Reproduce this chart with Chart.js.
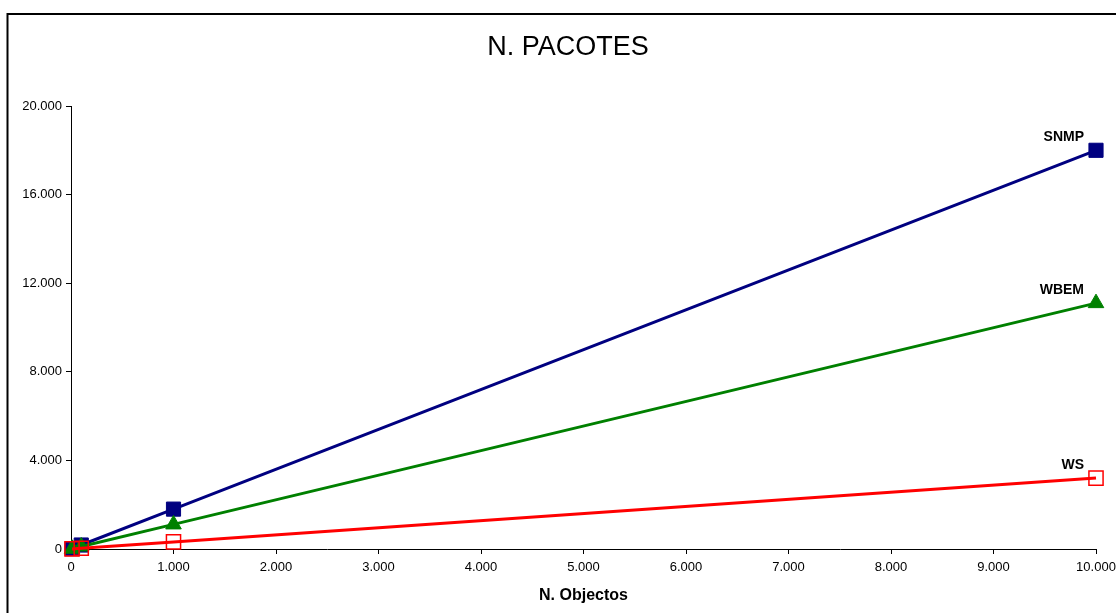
<!DOCTYPE html>
<html>
<head>
<meta charset="utf-8">
<script src="https://cdn.jsdelivr.net/npm/chart.js@4"></script>
<style>
  html, body { margin: 0; padding: 0; background: #fff; }
  #wrap { width: 1116px; height: 613px; }
</style>
</head>
<body>
<div id="wrap"><canvas id="chart"></canvas></div>
<script>
// number of objects (x) and packets per protocol (y)
const objectos = [10, 100, 1000, 10000];
const snmp = [18, 180, 1800, 18000];
const wbem = [11, 111, 1110, 11100];
const ws = [3, 32, 320, 3200];

const seriesNames = ['WS', 'WBEM', 'SNMP'];
const xTicks = [0, 1000, 2000, 3000, 4000, 5000, 6000, 7000, 8000, 9000, 10000];
const yTicks = [0, 4000, 8000, 12000, 16000, 20000];

const fmt = v => v.toLocaleString('de-DE');
const toPoints = ys => objectos.map((x, i) => ({ x: x, y: ys[i] }));

// frame around the whole chart + title
const framePlugin = {
    id: 'frame',
    beforeDraw(chart) {
        const ctx = chart.ctx;
        ctx.save();
        ctx.fillStyle = '#fff';
        ctx.fillRect(0, 0, chart.width, chart.height);
        ctx.strokeStyle = '#000';
        ctx.lineWidth = 2;
        ctx.strokeRect(7.5, 14, 1300, 800);
        ctx.fillStyle = '#000';
        ctx.font = '27px "Liberation Sans", Arial, sans-serif';
        ctx.textAlign = 'center';
        ctx.textBaseline = 'middle';
        ctx.fillText('N. PACOTES', 568, 48);
        ctx.restore();
    }
};

// series name next to the last point
const endLabels = {
    id: 'endLabels',
    afterDatasetsDraw(chart) {
        const ctx = chart.ctx;
        ctx.save();
        ctx.fillStyle = '#000';
        ctx.font = 'bold 14px "Liberation Sans", Arial, sans-serif';
        ctx.textAlign = 'right';
        ctx.textBaseline = 'alphabetic';
        chart.data.datasets.forEach((ds, i) => {
            const meta = chart.getDatasetMeta(i);
            const pt = meta.data[meta.data.length - 1];
            ctx.fillText(ds.label, pt.x - 12, pt.y - 9);
        });
        ctx.restore();
    }
};

new Chart(document.getElementById('chart'), {
    type: 'line',
    data: {
        datasets: [
            {
                label: seriesNames[0],
                data: toPoints(ws),
                clip: false,
                borderColor: '#ff0000',
                borderWidth: 3,
                pointStyle: 'rect',
                pointRadius: 10,
                pointBorderWidth: 1.5,
                pointBorderColor: '#ff0000',
                pointBackgroundColor: 'rgba(255,255,255,0)'
            },
            {
                label: seriesNames[1],
                data: toPoints(wbem),
                clip: false,
                borderColor: '#008000',
                borderWidth: 3,
                pointStyle: 'triangle',
                pointRadius: 9,
                pointBorderWidth: 1,
                pointBorderColor: '#008000',
                pointBackgroundColor: '#008000'
            },
            {
                label: seriesNames[2],
                data: toPoints(snmp),
                clip: false,
                borderColor: '#000080',
                borderWidth: 3,
                pointStyle: 'rect',
                pointRadius: 10,
                pointBorderWidth: 1,
                pointBorderColor: '#000080',
                pointBackgroundColor: '#000080'
            }
        ]
    },
    options: {
        responsive: true,
        maintainAspectRatio: false,
        animation: false,
        layout: { padding: { top: 106, right: 20, left: 0, bottom: 0 } },
        plugins: {
            legend: { display: false },
            title: { display: false },
            tooltip: { enabled: false }
        },
        scales: {
            x: {
                type: 'linear',
                min: 0,
                max: 10000,
                afterBuildTicks: s => { s.ticks = xTicks.map(v => ({ value: v })); },
                afterFit: s => { s.height = 64; s.paddingLeft = 0; s.paddingRight = 0; },
                border: { color: '#000', width: 1 },
                grid: { drawOnChartArea: false, drawTicks: true, tickLength: 5, color: '#000' },
                ticks: {
                    color: '#000',
                    padding: 6,
                    maxRotation: 0,
                    autoSkip: false,
                    font: { family: '"Liberation Sans", Arial, sans-serif', size: 13 },
                    callback: v => fmt(v)
                },
                title: {
                    display: true,
                    text: 'N. Objectos',
                    color: '#000',
                    padding: { top: 8, bottom: 8 },
                    font: { family: '"Liberation Sans", Arial, sans-serif', size: 16, weight: 'bold' }
                }
            },
            y: {
                min: 0,
                max: 20000,
                afterBuildTicks: s => { s.ticks = yTicks.map(v => ({ value: v })); },
                afterFit: s => { s.width = 71; },
                border: { color: '#000', width: 1 },
                grid: { drawOnChartArea: false, drawTicks: true, tickLength: 5, color: '#000' },
                ticks: {
                    color: '#000',
                    padding: 4,
                    font: { family: '"Liberation Sans", Arial, sans-serif', size: 13 },
                    callback: v => fmt(v)
                }
            }
        }
    },
    plugins: [framePlugin, endLabels]
});
</script>
</body>
</html>
